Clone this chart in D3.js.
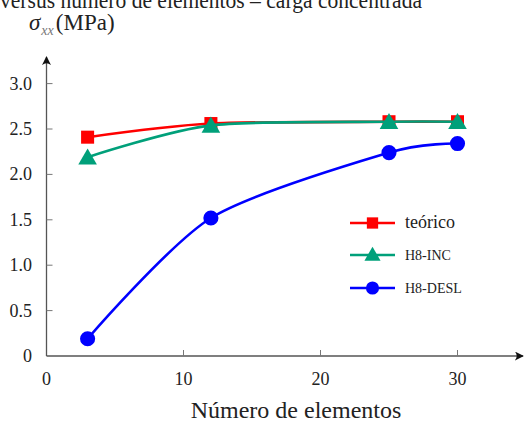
<!DOCTYPE html>
<html>
<head>
<meta charset="utf-8">
<script src="https://cdn.jsdelivr.net/npm/d3@7"></script>
<style>
  body { margin: 0; background: #fff; }
  svg { display: block; }
  text { font-family: "Liberation Serif", "DejaVu Serif", serif; fill: #222; }
</style>
</head>
<body>
<div id="chart"></div>
<script>
// values
var elementos = [3, 12, 25, 30];
var teorico = [2.41, 2.56, 2.58, 2.58];
var h8Inc = [2.19, 2.54, 2.58, 2.58];
var h8Desl = [0.19, 1.52, 2.24, 2.34];
var xTicks = [0, 10, 20, 30];
var yTicks = [0, 0.5, 1.0, 1.5, 2.0, 2.5, 3.0];
var seriesNames = ["teórico", "H8-INC", "H8-DESL"];

var width = 524, height = 427;

var svg = d3.select("#chart").append("svg")
  .attr("width", width)
  .attr("height", height);

var x = d3.scaleLinear().domain([0, 30]).range([46.5, 457.5]);
var y = d3.scaleLinear().domain([0, 3]).range([356, 83.6]);

// cut-off title at the top
svg.append("text")
  .attr("x", 0)
  .attr("y", 8)
  .attr("textLength", 422)
  .attr("lengthAdjust", "spacingAndGlyphs")
  .style("font-size", "23px")
  .text("versus número de elementos – carga concentrada");

// y label
var yl = svg.append("text").attr("x", 29).attr("y", 30).style("font-size", "23px");
yl.append("tspan").style("font-style", "italic").text("σ");
yl.append("tspan").attr("dy", 5).attr("dx", 1).style("font-size", "14px").style("font-style", "italic").style("fill", "#777").text("xx");
yl.append("tspan").attr("dy", -5).attr("dx", 2).text("(MPa)");

// arrow heads
var defs = svg.append("defs");
defs.append("marker")
  .attr("id", "arrow")
  .attr("viewBox", "0 0 10 10")
  .attr("refX", 9).attr("refY", 5)
  .attr("markerWidth", 9).attr("markerHeight", 9)
  .attr("markerUnits", "userSpaceOnUse")
  .attr("orient", "auto")
.append("path")
  .attr("d", "M0,0 Q4,5 0,10 L10,5 Z")
  .attr("fill", "#111");

// axes
var axisColor = "#555";
svg.append("line")
  .attr("x1", x(0)).attr("y1", y(0))
  .attr("x2", 523).attr("y2", y(0))
  .attr("stroke", axisColor).attr("stroke-width", 1.3)
  .attr("marker-end", "url(#arrow)");
svg.append("line")
  .attr("x1", x(0)).attr("y1", y(0))
  .attr("x2", x(0)).attr("y2", 57)
  .attr("stroke", axisColor).attr("stroke-width", 1.3)
  .attr("marker-end", "url(#arrow)");

// ticks
svg.selectAll(".xt").data(xTicks.filter(function(d) { return d > 0; }))
  .enter().append("line")
  .attr("x1", function(d) { return x(d); }).attr("x2", function(d) { return x(d); })
  .attr("y1", y(0)).attr("y2", y(0) - 6)
  .attr("stroke", "#777").attr("stroke-width", 1);
svg.selectAll(".xl").data(xTicks)
  .enter().append("text")
  .attr("x", function(d) { return x(d); })
  .attr("y", y(0) + 29)
  .attr("text-anchor", "middle")
  .style("font-size", "18px")
  .text(function(d) { return d; });

svg.selectAll(".yt").data(yTicks.filter(function(d) { return d > 0; }))
  .enter().append("line")
  .attr("x1", x(0)).attr("x2", x(0) + 6)
  .attr("y1", function(d) { return y(d); }).attr("y2", function(d) { return y(d); })
  .attr("stroke", "#777").attr("stroke-width", 1);
svg.selectAll(".yl").data(yTicks)
  .enter().append("text")
  .attr("x", 32)
  .attr("y", function(d) { return y(d) + 6; })
  .attr("text-anchor", "end")
  .style("font-size", "18px")
  .text(function(d) { return d === 0 ? "0" : d.toFixed(1); });

// x label
svg.append("text")
  .attr("x", 296)
  .attr("y", 418)
  .attr("text-anchor", "middle")
  .style("font-size", "24px")
  .text("Número de elementos");

// series
var series = [
  { name: seriesNames[0], values: teorico, color: "#ff0000", symbol: d3.symbolSquare, size: 170 },
  { name: seriesNames[1], values: h8Inc, color: "#00a07a", symbol: d3.symbolTriangle, size: 150 },
  { name: seriesNames[2], values: h8Desl, color: "#0000ff", symbol: d3.symbolCircle, size: 180 }
];

var line = d3.line()
  .x(function(d) { return x(d[0]); })
  .y(function(d) { return y(d[1]); })
  .curve(d3.curveCardinal.tension(0.2));

series.forEach(function(s) {
  var pts = elementos.map(function(e, i) { return [e, s.values[i]]; });
  svg.append("path")
    .attr("d", line(pts))
    .attr("fill", "none")
    .attr("stroke", s.color)
    .attr("stroke-width", 2.6);
  svg.selectAll(null).data(pts)
    .enter().append("path")
    .attr("d", d3.symbol().type(s.symbol).size(s.size))
    .attr("transform", function(d) {
      var dy = s.symbol === d3.symbolTriangle ? 2 : 0;
      return "translate(" + x(d[0]) + "," + (y(d[1]) + dy) + ")";
    })
    .attr("fill", s.color);
});

// legend
var legend = svg.append("g");
var rows = legend.selectAll("g").data(series)
  .enter().append("g")
  .attr("transform", function(d, i) { return "translate(350," + [223, 255, 288][i] + ")"; });
rows.append("line")
  .attr("x1", 0).attr("x2", 45)
  .attr("stroke", function(d) { return d.color; })
  .attr("stroke-width", 2.6);
rows.append("path")
  .attr("d", function(d) { return d3.symbol().type(d.symbol).size(d.size * 0.75)(); })
  .attr("transform", function(d) { return "translate(22.5," + (d.symbol === d3.symbolTriangle ? 1 : 0) + ")"; })
  .attr("fill", function(d) { return d.color; });
rows.append("text")
  .attr("x", 55)
  .attr("y", 5)
  .style("font-size", function(d, i) { return i === 0 ? "18px" : "14px"; })
  .text(function(d) { return d.name; });
</script>
</body>
</html>
